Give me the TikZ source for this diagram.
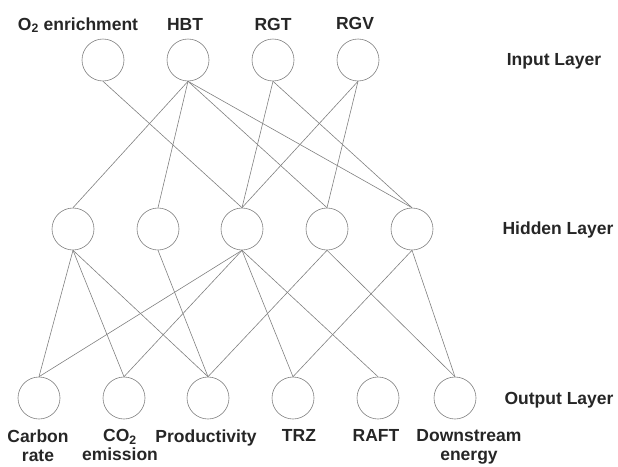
\documentclass[tikz,border=0pt]{standalone}
\usepackage{fontspec}
\setmainfont{Liberation Sans}
\usetikzlibrary{positioning}
\tikzstyle{neuron} = [circle, draw=black!50, line width=0.6pt, minimum size=42pt, inner sep=0pt]
\tikzstyle{link} = [draw=black!50, line width=0.6pt]
\tikzstyle{varname} = [font=\bfseries\fontsize{17.5}{19}\selectfont, text=black!85, align=center, inner sep=0pt]
\tikzstyle{layername} = [font=\bfseries\fontsize{17.5}{19}\selectfont, text=black!85, inner sep=0pt, anchor=base]

\begin{document}
\begin{tikzpicture}[x=1pt, y=-1pt]
  \useasboundingbox (0,0) rectangle (618,466);

  % Input layer
  \node (in1) [neuron] at (103,60) {};
  \node (in2) [neuron] at (188,60) {};
  \node (in3) [neuron] at (273,60) {};
  \node (in4) [neuron] at (358,60) {};

  % Hidden layer
  \node (hid1) [neuron] at (73,229) {};
  \node (hid2) [neuron] at (158,229) {};
  \node (hid3) [neuron] at (242,229) {};
  \node (hid4) [neuron] at (327,229) {};
  \node (hid5) [neuron] at (412,229) {};

  % Output layer
  \node (out1) [neuron] at (39,398) {};
  \node (out2) [neuron] at (124,398) {};
  \node (out3) [neuron] at (208,398) {};
  \node (out4) [neuron] at (293,398) {};
  \node (out5) [neuron] at (378,398) {};
  \node (out6) [neuron] at (455,398) {};

  % Input labels
  \node (lin1) [varname, anchor=base] at (78,30) {O\textsubscript{2} enrichment};
  \node (lin2) [varname, anchor=base] at (185,30) {HBT};
  \node (lin3) [varname, anchor=base] at (273,30) {RGT};
  \node (lin4) [varname, anchor=base] at (355,29) {RGV};

  % Output labels
  \node (lout1) [varname, below=10pt of out1, xshift=-1pt] {Carbon\\rate};
  \node (lout2) [varname, below=10pt of out2, xshift=-4pt] {CO\textsubscript{2}\\emission};
  \node (lout3) [varname, below=10pt of out3, xshift=-2pt] {Productivity};
  \node (lout4) [varname, below=10pt of out4, xshift=6pt] {TRZ};
  \node (lout5) [varname, below=10pt of out5, xshift=-2pt] {RAFT};
  \node (lout6) [varname, below=10pt of out6, xshift=14pt] {Downstream\\energy};

  % Layer names
  \node (linput) [layername] at (554,65) {Input Layer};
  \node (lhidden) [layername] at (558,234) {Hidden Layer};
  \node (loutput) [layername] at (559,404) {Output Layer};

  % Input to hidden
  \draw [link] (in1.south) -- (hid3.north);
  \draw [link] (in2.south) -- (hid1.north);
  \draw [link] (in2.south) -- (hid2.north);
  \draw [link] (in2.south) -- (hid4.north);
  \draw [link] (in2.south) -- (hid5.north);
  \draw [link] (in3.south) -- (hid3.north);
  \draw [link] (in3.south) -- (hid5.north);
  \draw [link] (in4.south) -- (hid3.north);
  \draw [link] (in4.south) -- (hid4.north);

  % Hidden to output
  \draw [link] (hid1.south) -- (out1.north);
  \draw [link] (hid1.south) -- (out2.north);
  \draw [link] (hid1.south) -- (out3.north);
  \draw [link] (hid2.south) -- (out3.north);
  \draw [link] (hid3.south) -- (out1.north);
  \draw [link] (hid3.south) -- (out2.north);
  \draw [link] (hid3.south) -- (out4.north);
  \draw [link] (hid3.south) -- (out5.north);
  \draw [link] (hid4.south) -- (out3.north);
  \draw [link] (hid4.south) -- (out6.north);
  \draw [link] (hid5.south) -- (out4.north);
  \draw [link] (hid5.south) -- (out6.north);

\end{tikzpicture}
\end{document}
